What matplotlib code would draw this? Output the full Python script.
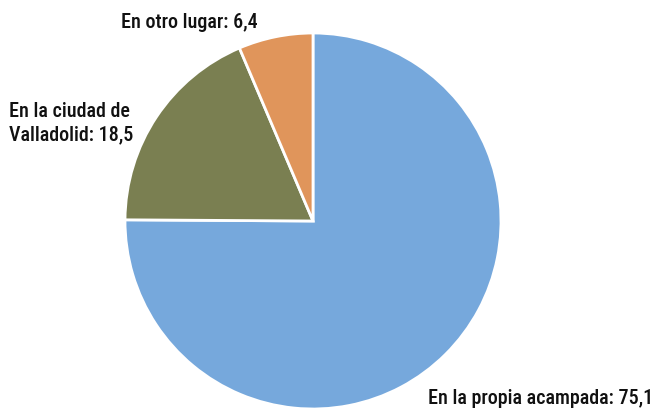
import matplotlib.pyplot as plt

# share of answers (%)
labels = ["En la propia acampada", "En la ciudad de\nValladolid", "En otro lugar"]
values = [75.1, 18.5, 6.4]
colors = ["#76A8DC", "#7A7F51", "#E0955B"]

W, H = 658, 413
fig = plt.figure(figsize=(W / 100, H / 100), dpi=100)

cx, cy, r = 313, 221, 188
ax = fig.add_axes([(cx - r) / W, (H - cy - r) / H, 2 * r / W, 2 * r / H])
ax.pie(values, colors=colors, startangle=90, counterclock=False, radius=1,
       wedgeprops=dict(edgecolor="white", linewidth=2))
ax.set_xlim(-1, 1)
ax.set_ylim(-1, 1)
ax.set_aspect("equal")
ax.axis("off")

font = dict(family=["Roboto Condensed", "DejaVu Sans"], fontsize=14.5,
            fontweight=500, color="#111111")


def fmt(v):
    return f"{v:.1f}".replace(".", ",")


# label positions in pixels (x, y, ha)
pos = [(653, 399, "right"), (9, 123, "left"), (121, 23, "left")]
for lab, v, (px, py, ha) in zip(labels, values, pos):
    fig.text(px / W, 1 - py / H, f"{lab}: {fmt(v)}", ha=ha, va="center",
             linespacing=1.3, **font)

fig.savefig("out.png", dpi=100)
